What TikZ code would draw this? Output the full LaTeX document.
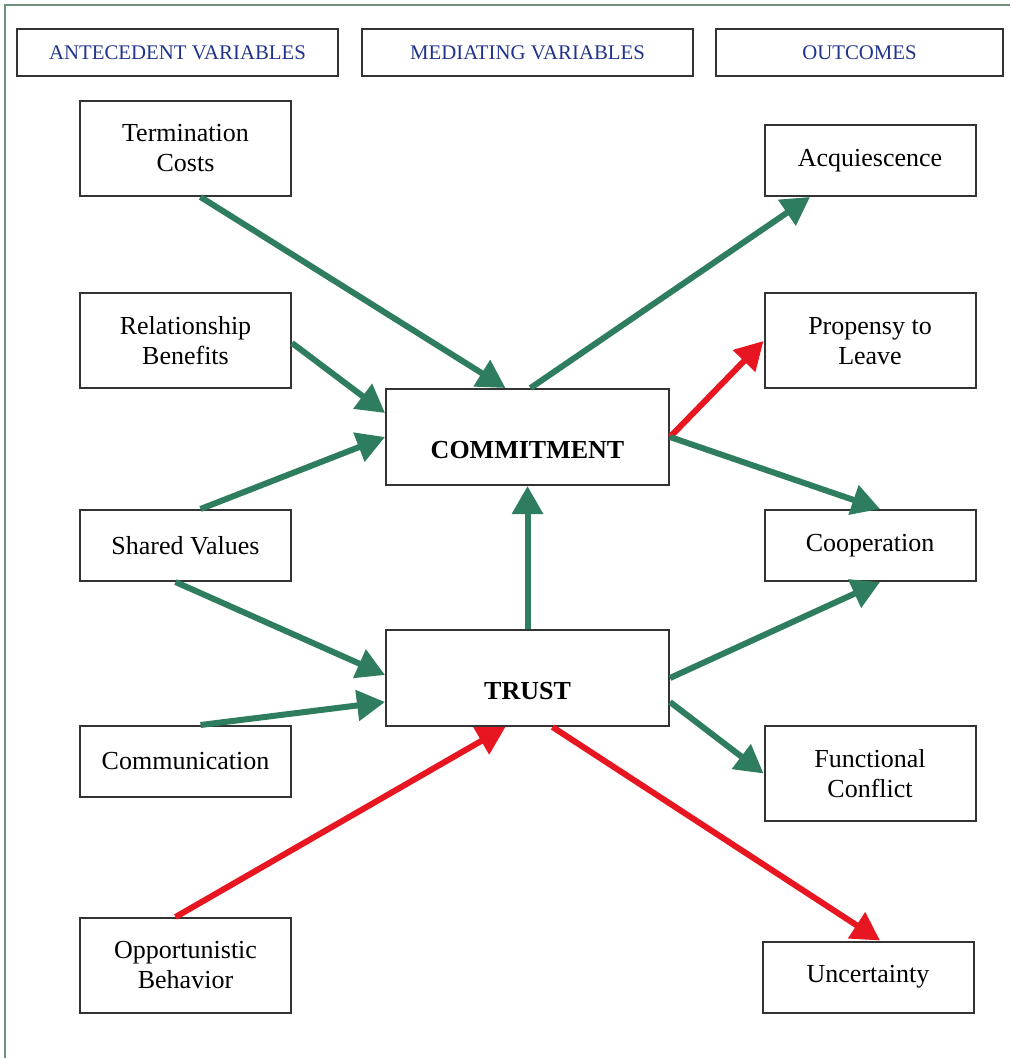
\documentclass[tikz,border=0pt]{standalone}
\usepackage{fontspec}
\setmainfont{Liberation Serif}
\usetikzlibrary{positioning}
\usetikzlibrary{calc}
\usetikzlibrary{arrows.meta}
\definecolor{arrowgreen}{RGB}{46,125,94}
\definecolor{arrowred}{RGB}{232,22,32}
\definecolor{headblue}{RGB}{32,52,140}
\definecolor{framegreen}{RGB}{110,145,125}

\begin{document}
\begin{tikzpicture}[x=0.5pt, y=-0.5pt,
  box/.style={draw=black!80, line width=1pt, fill=white, align=center, inner sep=0pt, font=\fontsize{13}{15}\selectfont},
  headbox/.style={box, text=headblue, font=\fontsize{10.4}{12}\selectfont, minimum height=23.5pt},
  side/.style={box, minimum width=105.5pt, minimum height=35.5pt},
  sidetall/.style={side, minimum height=47.5pt},
  mediator/.style={box, minimum width=141.5pt, minimum height=48pt, font=\fontsize{13}{15}\selectfont\bfseries},
  gline/.style={draw=arrowgreen, line width=3pt, -{Triangle[length=14pt,width=15pt]}},
  rline/.style={gline, draw=arrowred}]
\useasboundingbox (0,0) rectangle (1010,1058);
\draw[framegreen, line width=0.8pt] (5,1058) -- (5,5) -- (1010,5);

\node[headbox, minimum width=160.5pt] (antec) at (177.5,52.5) {ANTECEDENT VARIABLES};
\node[headbox, minimum width=165.5pt] (medi) at (527.5,52.5) {MEDIATING VARIABLES};
\node[headbox, minimum width=143.5pt] (outc) at (859.5,52.5) {OUTCOMES};

\node[sidetall] (tc) at (185.5,148.5) {Termination\\Costs};
\node[sidetall] (rb) at (185.5,341) {Relationship\\Benefits};
\node[side] (sv) at (185.5,545.5) {Shared Values};
\node[side] (co) at (185.5,761.5) {Communication};
\node[sidetall] (ob) at (185.5,965.5) {Opportunistic\\Behavior};

\node[mediator] (cm) at (527.5,437) {\raisebox{-10.5pt}[0pt][0pt]{COMMITMENT}};
\node[mediator] (tr) at (527.5,678) {\raisebox{-10.5pt}[0pt][0pt]{TRUST}};

\node[side] (aq) at (870,160.5) {Acquiescence};
\node[sidetall] (pl) at (870,341) {Propensy to\\Leave};
\node[side] (cp) at (870,545.5) {Cooperation};
\node[sidetall] (fc) at (870,773.5) {Functional\\Conflict};
\node[side] (un) at (868,977) {Uncertainty};

\draw[gline] ($(tc.south)+(15,0)$) -- ($(cm.north)+(-22,0)$);
\draw[gline] ($(rb.east)+(0,2)$) -- ($(cm.west)+(0,-24)$);
\draw[gline] ($(sv.north)+(15,0)$) -- (cm.west);
\draw[gline] ($(sv.south)+(-10,0)$) -- ($(tr.west)+(0,-3)$);
\draw[gline] ($(co.north)+(15,0)$) -- ($(tr.west)+(0,24)$);
\draw[rline] ($(ob.north)+(-10,0)$) -- ($(tr.south)+(-22,0)$);
\draw[gline] (tr.north) -- (cm.south);
\draw[gline] ($(cm.north)+(3,0)$) -- ($(aq.south)+(-60,0)$);
\draw[rline] (cm.east) -- (pl.west);
\draw[gline] (cm.east) -- ($(cp.north)+(10,0)$);
\draw[gline] (tr.east) -- ($(cp.south)+(10,0)$);
\draw[gline] ($(tr.east)+(0,24)$) -- (fc.west);
\draw[rline] ($(tr.south)+(25,0)$) -- ($(un.north)+(12,0)$);
\end{tikzpicture}
\end{document}
